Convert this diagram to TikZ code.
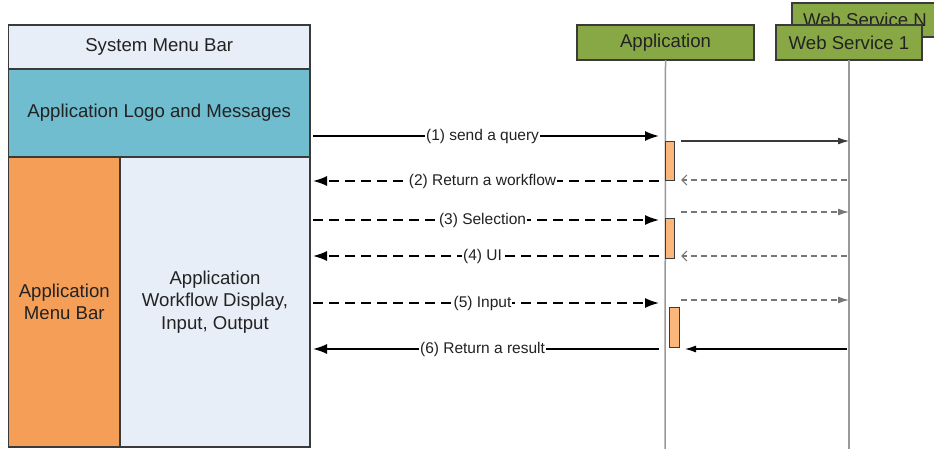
\documentclass[tikz,border=0pt]{standalone}
\usepackage{fontspec}
\setmainfont{Liberation Sans}
\usetikzlibrary{arrows.meta,positioning}
\definecolor{barblue}{HTML}{E8EEF7}
\definecolor{logoteal}{HTML}{6FBDCF}
\definecolor{menuorange}{HTML}{F59E57}
\definecolor{headgreen}{HTML}{88A846}
\definecolor{actorange}{HTML}{FBB77B}
\definecolor{edge}{HTML}{3A3A3A}
\definecolor{life}{HTML}{9A9A9A}
\definecolor{reply}{HTML}{777777}
\definecolor{ink}{HTML}{222222}
\tikzset{
  panel/.style={draw=edge,line width=1.4pt,outer sep=0pt,inner sep=0pt,align=center,
                text=ink,font=\fontsize{18.6}{22.5}\selectfont},
  header/.style={draw=edge,line width=1.1pt,fill=headgreen,minimum height=35pt,
                 outer sep=0pt,inner sep=0pt,text=ink,font=\fontsize{18.6}{22}\selectfont},
  lifeline/.style={draw=life,line width=1.5pt},
  activation/.style={draw=edge,line width=0.8pt,fill=actorange,minimum width=9pt,
                     minimum height=40pt,inner sep=0pt,outer sep=0pt},
  msg/.style={-{Latex[length=14pt,width=10pt]},line width=1.6pt,draw=black},
  msgdash/.style={msg,dash pattern=on 10pt off 6pt},
  msglabel/.style={fill=white,inner sep=1pt,text=ink,font=\fontsize{15.5}{18}\selectfont},
  call/.style={-{Latex[length=11pt,width=7pt]},line width=1.1pt,draw=edge},
  calldash/.style={call,draw=reply,dash pattern=on 6pt off 4pt},
  replydash/.style={-{Straight Barb[length=5pt,width=10pt]},line width=1.1pt,draw=reply,
                    dash pattern=on 6pt off 4pt}
}
\begin{document}
\begin{tikzpicture}[x=1pt,y=-1pt]
\useasboundingbox (0,0) rectangle (934,448);

% user interface
\node[panel,fill=barblue,minimum width=301.5pt,minimum height=44pt] (sysbar) at (159.25,47) {System Menu Bar};
\node[panel,fill=logoteal,minimum width=301.5pt,minimum height=88pt,below=0pt of sysbar] (logo) {Application Logo and Messages};
\node[panel,fill=menuorange,minimum width=111.5pt,minimum height=290pt,anchor=north west] (menubar) at (logo.south west) {Application\\Menu Bar};
\node[panel,fill=barblue,minimum width=190pt,minimum height=290pt,right=0pt of menubar] (workflow) {Application\\Workflow Display,\\Input, Output};

% participants
\node[header,minimum width=146pt,minimum height=34pt] (wsN) at (865,20) {Web Service N};
\node[header,minimum width=177pt] (app) at (665.5,42.5) {Application};
\node[header,minimum width=146pt] (ws1) at (849,42.5) {Web Service 1};
\coordinate (append) at (665,449);
\coordinate (wsend) at (849,449);
\draw[lifeline] (app.south) -- (append);
\draw[lifeline] (ws1.south) -- (wsend);

% activations
\node[activation,minimum height=39pt] (act1) at (669.5,160.5) {};
\node[activation] (act2) at (669.5,238) {};
\node[activation,minimum width=10pt] (act3) at (674,327) {};

% message rows
\foreach \i/\y in {1/136,2/181,3/220,4/256,5/303,6/349}{
  \coordinate (ui\i) at (313,\y);
  \coordinate (ap\i) at (659,\y);
}
\foreach \i/\y in {1/141,2/180,3/212,4/256,5/300,6/349}{
  \coordinate (out\i) at (681,\y);
  \coordinate (ws\i) at (849,\y);
}

\draw[msg] (ui1) -- node[msglabel,pos=0.49] {(1) send a query} (ap1);
\draw[msgdash] (ap2) -- node[msglabel,pos=0.51] {(2) Return a workflow} (ui2);
\draw[msgdash] (ui3) -- node[msglabel,pos=0.49] {(3) Selection} (ap3);
\draw[msgdash] (ap4) -- node[msglabel,pos=0.51] {(4) UI} (ui4);
\draw[msgdash] (ui5) -- node[msglabel,pos=0.49] {(5) Input} (ap5);
\draw[msg] (ap6) -- node[msglabel,pos=0.51] {(6) Return a result} (ui6);

\draw[call] (out1) -- (ws1);
\draw[replydash] ([xshift=-2pt]ws2) -- (out2);
\draw[calldash] (out3) -- (ws3);
\draw[replydash] ([xshift=-2pt]ws4) -- (out4);
\draw[calldash] (out5) -- (ws5);
\draw[call,draw=black] ([xshift=-2pt]ws6) -- ([xshift=4pt]out6);
\end{tikzpicture}
\end{document}
